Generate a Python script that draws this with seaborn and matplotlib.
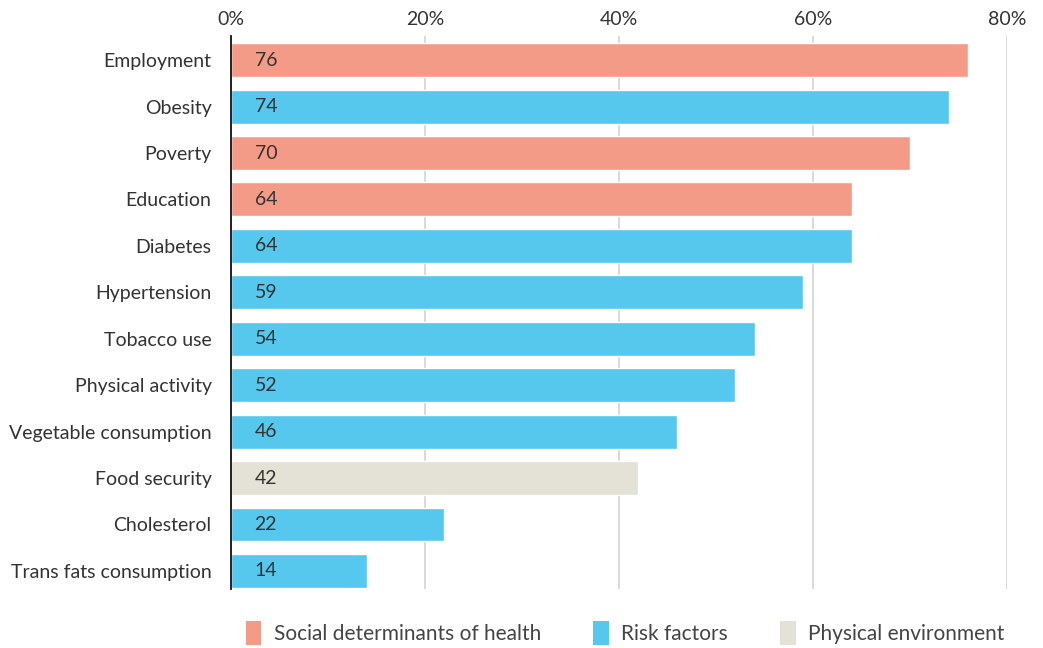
import pandas as pd
import seaborn as sns
import matplotlib.pyplot as plt
from matplotlib.patches import Patch

# data
factors = ['Employment', 'Obesity', 'Poverty', 'Education', 'Diabetes',
           'Hypertension', 'Tobacco use', 'Physical activity',
           'Vegetable consumption', 'Food security', 'Cholesterol',
           'Trans fats consumption']
values = [76, 74, 70, 64, 64, 59, 54, 52, 46, 42, 22, 14]
groups = ['Social determinants of health', 'Risk factors',
          'Social determinants of health', 'Social determinants of health',
          'Risk factors', 'Risk factors', 'Risk factors', 'Risk factors',
          'Risk factors', 'Physical environment', 'Risk factors', 'Risk factors']
group_order = ['Social determinants of health', 'Risk factors', 'Physical environment']
ticks = [0, 20, 40, 60, 80]

df = pd.DataFrame({'factor': factors, 'value': values, 'group': groups})

palette = {'Social determinants of health': '#F49B88',
           'Risk factors': '#56C8EE',
           'Physical environment': '#E4E1D6'}

sns.set_style('white')
plt.rcParams['font.family'] = ['Lato', 'DejaVu Sans']
txt = '#333333'

fig = plt.figure(figsize=(10.43, 6.48), dpi=100)
ax = fig.add_axes([231 / 1043, 59 / 648, 776 / 1043, 553 / 648])

sns.barplot(data=df, x='value', y='factor', hue='group', order=factors,
            hue_order=group_order, palette=palette, dodge=False, saturation=1,
            width=0.73, ax=ax, legend=False, zorder=3)

ax.set_xlim(0, 80)
ax.set_ylim(11.39, -0.52)
ax.xaxis.tick_top()
ax.set_xticks(ticks)
ax.set_xticklabels([f'{t}%' for t in ticks], fontsize=14, color=txt)
ax.tick_params(axis='x', length=0, pad=6)
ax.tick_params(axis='y', length=0, pad=14, labelsize=14, labelcolor=txt)
ax.set_xlabel('')
ax.set_ylabel('')
ax.grid(axis='x', color='#d3d3d3', linewidth=1.2, zorder=0)
for s in ['top', 'right', 'bottom']:
    ax.spines[s].set_visible(False)
ax.spines['left'].set_color('#111111')
ax.spines['left'].set_linewidth(1.3)
ax.spines['left'].set_zorder(5)

for i, v in enumerate(values):
    ax.annotate(str(v), (0, i), xytext=(17, 0), textcoords='offset points',
                va='center', ha='left', fontsize=14, color=txt, zorder=4)

handles = [Patch(facecolor=palette[g], edgecolor='none', label=g) for g in group_order]
fig.legend(handles=handles, loc='center', bbox_to_anchor=(625 / 1043, 15 / 648),
           ncol=3, frameon=False, fontsize=15, handlelength=0.75, handleheight=1.4,
           handletextpad=0.6, columnspacing=2.5, labelcolor='#444444')

fig.savefig('out.png', dpi=100)
